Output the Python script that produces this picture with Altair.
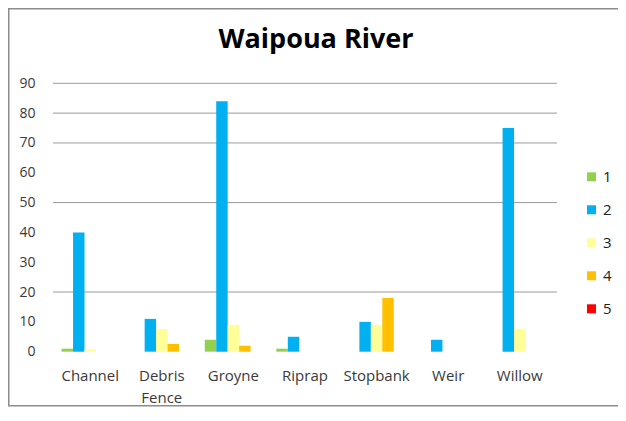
import altair as alt
import pandas as pd

categories = ["Channel", "Debris Fence", "Groyne", "Riprap", "Stopbank", "Weir", "Willow"]
series_names = ["1", "2", "3", "4", "5"]
s1 = [1, 0, 4, 1, 0, 0, 0]
s2 = [40, 11, 84, 5, 10, 4, 75]
s3 = [0.8, 7.6, 9, 0, 9, 0, 7.7]
s4 = [0, 2.6, 2, 0, 18, 0, 0]
s5 = [0, 0, 0, 0, 0, 0, 0]
colors = ["#92D050", "#00B0F0", "#FFFF99", "#FFC000", "#FF0000"]
y_ticks = [0, 10, 20, 30, 40, 50, 60, 70, 80, 90]
grid_values = [20, 50, 70, 80, 90]
title_text = ["Waipoua River"]

rows = []
for name, vals in zip(series_names, [s1, s2, s3, s4, s5]):
    for c, v in zip(categories, vals):
        rows.append({"category": c, "series": name, "value": v})
df = pd.DataFrame(rows)
grid_df = pd.DataFrame({"g": grid_values})
frame_df = pd.DataFrame({"a": [0]})
title_df = pd.DataFrame({"t": title_text})

FONT = "Open Sans"
W, H = 504, 268.4
PAD_L, PAD_T, PAD_R, PAD_B = 45, 75.3, 61, 55

y_axis = alt.Axis(
    title=None, values=y_ticks, grid=False, domain=False, ticks=False,
    labelFont=FONT, labelFontSize=14, labelColor="#3a3a3a", labelPadding=18,
)
y_scale = alt.Scale(domain=[0, 90])

grid = alt.Chart(grid_df).mark_rule(color="#9a9a9a", strokeWidth=1).encode(
    y=alt.Y("g:Q", scale=y_scale, axis=y_axis)
)

bars = alt.Chart(df).mark_bar().encode(
    x=alt.X(
        "category:N",
        sort=categories,
        scale=alt.Scale(paddingInner=0.2, paddingOuter=0.12),
        axis=alt.Axis(
            title=None, labelAngle=0, domain=False, ticks=False,
            labelFont=FONT, labelFontSize=15, labelColor="#3a3a3a",
            labelPadding=17, labelExpr="split(datum.label, ' ')",
            labelLineHeight=22,
        ),
    ),
    xOffset=alt.XOffset("series:N", sort=series_names,
                        scale=alt.Scale(paddingInner=0, paddingOuter=0)),
    y=alt.Y("value:Q", scale=y_scale, axis=y_axis),
    color=alt.Color(
        "series:N",
        sort=series_names,
        scale=alt.Scale(domain=series_names, range=colors),
        legend=alt.Legend(
            title=None, orient="none", legendX=531, legendY=86,
            symbolType="square", symbolSize=81, symbolStrokeWidth=0,
            labelFont=FONT, labelFontSize=15, labelColor="#222222",
            rowPadding=17, labelOffset=4,
        ),
    ),
)

title = alt.Chart(title_df).mark_text(
    font=FONT, fontSize=27, fontWeight="bold", color="#000000",
    align="center", baseline="alphabetic",
).encode(
    text="t:N", x=alt.value(263), y=alt.value(-35.5),
)

frame = alt.Chart(frame_df).mark_rect(
    fill=None, stroke="#8c8c8c", strokeWidth=1.5, clip=False
).encode(
    x=alt.value(-PAD_L + 0.75), x2=alt.value(W + 100),
    y=alt.value(-PAD_T + 0.75), y2=alt.value(H + PAD_B - 1),
)

chart = alt.layer(grid, bars, title, frame).properties(
    width=W, height=H,
    autosize=alt.AutoSizeParams(type="none"),
    padding={"left": PAD_L, "top": PAD_T, "right": PAD_R, "bottom": PAD_B},
).configure(background="white").configure_view(strokeWidth=0)

chart.save("out.html", embed_options={"renderer": "svg", "actions": False})
